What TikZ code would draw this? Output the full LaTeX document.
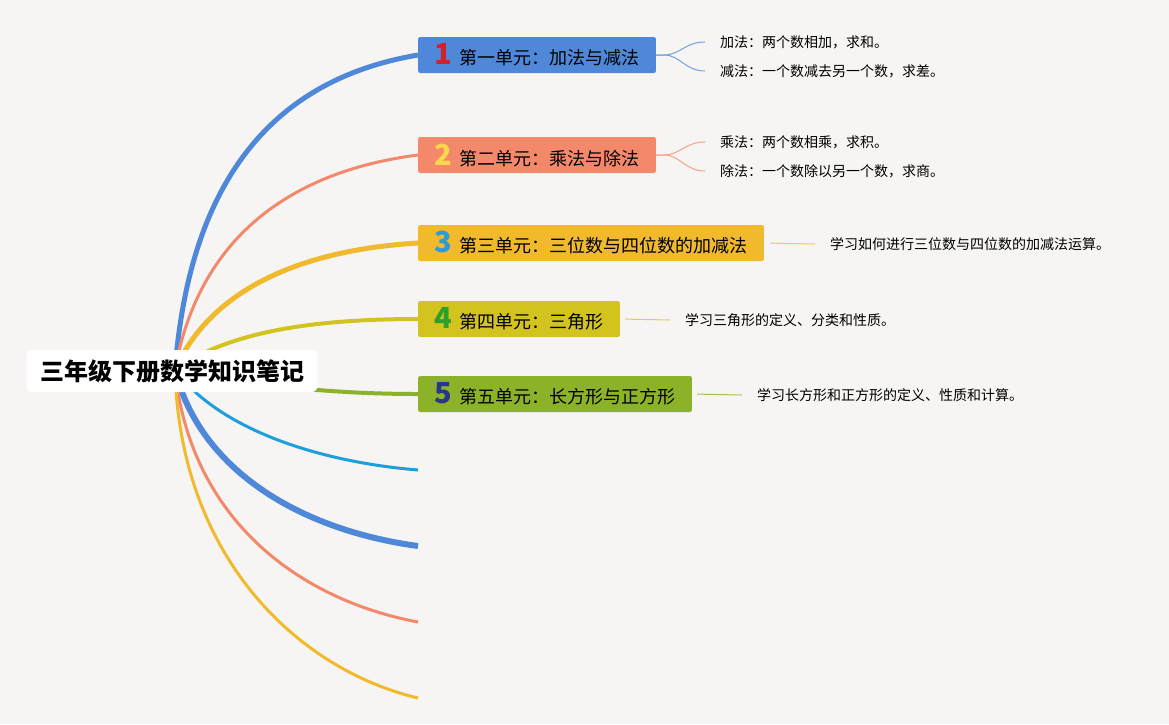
\documentclass[tikz,border=0pt]{standalone}
\usepackage{fontspec}
\newfontfamily\cjk{Noto Sans CJK SC}
\usetikzlibrary{calc}
\definecolor{paper}{HTML}{F6F5F3}
\definecolor{unitblue}{HTML}{4F88D9}
\definecolor{unitorange}{HTML}{F3896A}
\definecolor{unityellow}{HTML}{F1BA2D}
\definecolor{unitolive}{HTML}{D3C31E}
\definecolor{unitgreen}{HTML}{8CB229}
\definecolor{skyblue}{HTML}{1E9FDC}
\definecolor{numred}{HTML}{D41F2F}
\definecolor{numyellow}{HTML}{F8D84B}
\definecolor{numblue}{HTML}{2B9BD9}
\definecolor{numgreen}{HTML}{2BA02B}
\definecolor{numnavy}{HTML}{27388C}
\tikzset{
  unitbox/.style={fill=#1, rounded corners=2pt, anchor=west, minimum height=36pt,
    inner xsep=16.5pt, inner ysep=0pt, font=\cjk\fontsize{18}{20}\selectfont},
  leaf/.style={anchor=west, inner xsep=15pt, font=\cjk\fontsize{14}{16}\selectfont},
  branch/.style={draw=#1},
  twig/.style={draw=#1!80, line width=1pt},
}
\newcommand{\unitno}[2]{{\fontsize{29}{29}\selectfont\bfseries\color{#1}#2}\hspace{7pt}}

\begin{document}
\begin{tikzpicture}[x=1pt,y=-1pt]
        % page
        \fill[paper] (0,0) rectangle (1169,724);
        \useasboundingbox (0,0) rectangle (1169,724);
        % hub behind the title and free branch ends
        \coordinate (hub) at (175,370);
        \coordinate (e6) at (418,470);
        \coordinate (e7) at (418,546);
        \coordinate (e8) at (418,622);
        \coordinate (e9) at (418,698);
        % units
        \node[unitbox=unitblue] (u1) at (418,55) {\unitno{numred}{1}第一单元：加法与减法};
        \node[unitbox=unitorange] (u2) at (418,155) {\unitno{numyellow}{2}第二单元：乘法与除法};
        \node[unitbox=unityellow] (u3) at (418,243) {\unitno{numblue}{3}第三单元：三位数与四位数的加减法};
        \node[unitbox=unitolive] (u4) at (418,319) {\unitno{numgreen}{4}第四单元：三角形};
        \node[unitbox=unitgreen] (u5) at (418,394) {\unitno{numnavy}{5}第五单元：长方形与正方形};
        % notes
        \node[leaf] (l1a) at (705,42) {加法：两个数相加，求和。};
        \node[leaf] (l1b) at (705,71) {减法：一个数减去另一个数，求差。};
        \node[leaf] (l2a) at (705,142) {乘法：两个数相乘，求积。};
        \node[leaf] (l2b) at (705,171) {除法：一个数除以另一个数，求商。};
        \node[leaf] (l3) at (815,244) {学习如何进行三位数与四位数的加减法运算。};
        \node[leaf] (l4) at (670,320) {学习三角形的定义、分类和性质。};
        \node[leaf] (l5) at (742,395) {学习长方形和正方形的定义、性质和计算。};
        % twigs
        \foreach \u/\l/\c in {u1/l1a/unitblue, u1/l1b/unitblue, u2/l2a/unitorange, u2/l2b/unitorange}
        {
            \draw[twig=\c] (\u.east) -- ++(8,0) .. controls +(16,0) and +(-20,0) .. (\l.west);
        }
        \draw[twig=unityellow, shorten <=6pt] (u3.east) -- (l3.west);
        \draw[twig=unitolive, shorten <=5pt] (u4.east) -- (l4.west);
        \draw[twig=unitgreen, shorten <=5pt] (u5.east) -- (l5.west);
        % branches
        \draw[branch=unitblue, line width=5pt] (hub) .. controls (192,150) and (300,75) .. (u1.west);
        \draw[branch=unitorange, line width=3pt] (hub) .. controls (200,230) and (300,170) .. (u2.west);
        \draw[branch=unityellow, line width=5pt] (hub) .. controls (210,290) and (300,250) .. (u3.west);
        \draw[branch=unitolive, line width=4pt] (hub) .. controls (230,330) and (320,319) .. (u4.west);
        \draw[branch=unitgreen, line width=4pt] (hub) .. controls (250,385) and (330,394) .. (u5.west);
        \draw[branch=skyblue, line width=3pt] (hub) .. controls (220,430) and (320,462) .. (e6);
        \draw[branch=unitblue, line width=6pt] (hub) .. controls (200,470) and (300,530) .. (e7);
        \draw[branch=unitorange, line width=3pt] (hub) .. controls (190,520) and (300,600) .. (e8);
        \draw[branch=unityellow, line width=3pt] (hub) .. controls (180,560) and (300,670) .. (e9);
        % title
        \node[fill=white, rounded corners=6pt, minimum width=291pt, minimum height=42pt,
            font=\cjk\bfseries\fontsize{24}{26}\selectfont] (root) at (172,371) {三年级下册数学知识笔记};
    \end{tikzpicture}
\end{document}
